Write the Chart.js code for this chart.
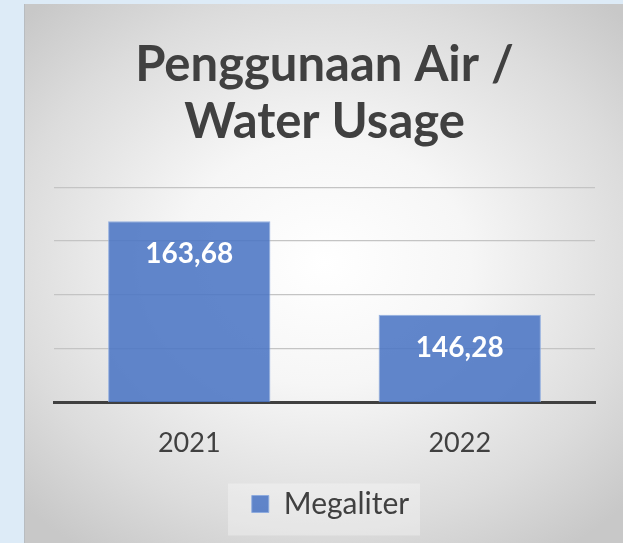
<!DOCTYPE html>
<html>
<head>
<meta charset="utf-8">
<script src="https://cdn.jsdelivr.net/npm/chart.js@4"></script>
<style>
  html, body { margin: 0; padding: 0; }
  body { width: 623px; height: 543px; background: #ddebf7; position: relative; overflow: hidden; }
  .panel {
    position: absolute; left: 24px; top: 4px; width: 598px; height: 539px;
    border-left: 1px solid #b8bcc0;
    background: radial-gradient(ellipse 70% 65% at 50% 48%, #ffffff 0%, #f6f6f6 35%, #dcdcdc 75%, #c8c8c8 100%);
  }
  .panel canvas { position: absolute; left: 0; top: 0; }
</style>
</head>
<body>
<div class="panel"><canvas id="waterchart" width="598" height="539"></canvas></div>
<script>
const years = ["2021", "2022"];
const megaliter = [163.68, 146.28];
const valueLabels = ["163,68", "146,28"];
const yTicks = [130, 140, 150, 160, 170];

const textGray = '#404040';

// labels written inside top of each bar
const barLabels = {
  id: 'barLabels',
  afterDatasetsDraw(chart) {
    const ctx = chart.ctx;
    const meta = chart.getDatasetMeta(0);
    ctx.save();
    ctx.fillStyle = '#ffffff';
    ctx.font = 'bold 28px Lato';
    ctx.textAlign = 'center';
    ctx.textBaseline = 'middle';
    meta.data.forEach((bar, i) => {
      ctx.fillText(valueLabels[i], bar.x, bar.y + 33);
    });
    ctx.restore();
  }
};

// nudge legend a bit right + faint box behind it
const legendBox = {
  id: 'legendBox',
  afterLayout(chart) {
    chart.legend.left += 6;
    chart.legend.right += 6;
  },
  beforeDraw(chart) {
    const lg = chart.legend;
    if (!lg) return;
    const ctx = chart.ctx;
    const w = 192, h = 52;
    const cy = lg.top + lg.height / 2;
    ctx.save();
    ctx.fillStyle = 'rgba(255,255,255,0.3)';
    ctx.fillRect(chart.width / 2 - w / 2, cy - h / 2 + 2, w, h);
    ctx.restore();
  }
};

const waterchart = document.getElementById('waterchart');

new Chart(waterchart, {
  type: 'bar',
  data: {
    labels: years,
    datasets: [
      {
        label: 'Megaliter',
        data: megaliter,
        backgroundColor: 'rgba(75,117,196,0.88)',
        borderColor: 'rgba(140,170,222,0.9)',
        borderWidth: 1,
        categoryPercentage: 1,
        barPercentage: 0.6,
      },
    ],
  },
  options: {
    responsive: false,
    animation: false,
    layout: {
      padding: { left: 29, right: 28, top: 0, bottom: 14 }
    },
    scales: {
      y: {
        min: yTicks[0],
        max: yTicks[yTicks.length - 1],
        afterBuildTicks(axis) {
          axis.ticks = yTicks.map(v => ({ value: v }));
        },
        ticks: { display: false },
        border: { display: false },
        grid: { color: '#c4c4c4', lineWidth: 1.3, drawTicks: false },
      },
      x: {
        grid: { display: false },
        border: { display: true, color: '#404040', width: 3 },
        ticks: {
          color: textGray,
          font: { family: 'Lato', size: 27, lineHeight: 2.37 },
          padding: 1,
        },
        afterFit(axis) {
          axis.height += 10;
        },
      },
    },
    plugins: {
      title: {
        display: true,
        text: ['Penggunaan Air /', 'Water Usage'],
        color: textGray,
        font: { family: 'Lato', size: 49, weight: 'bold', lineHeight: 1.157 },
        padding: { top: 33, bottom: 37 },
      },
      legend: {
        position: 'bottom',
        labels: {
          color: textGray,
          font: { family: 'Lato', size: 30 },
          boxWidth: 17,
          boxHeight: 17,
          padding: 3,
        },
      },
      tooltip: { enabled: false },
    },
  },
  plugins: [legendBox, barLabels],
});
</script>
</body>
</html>
